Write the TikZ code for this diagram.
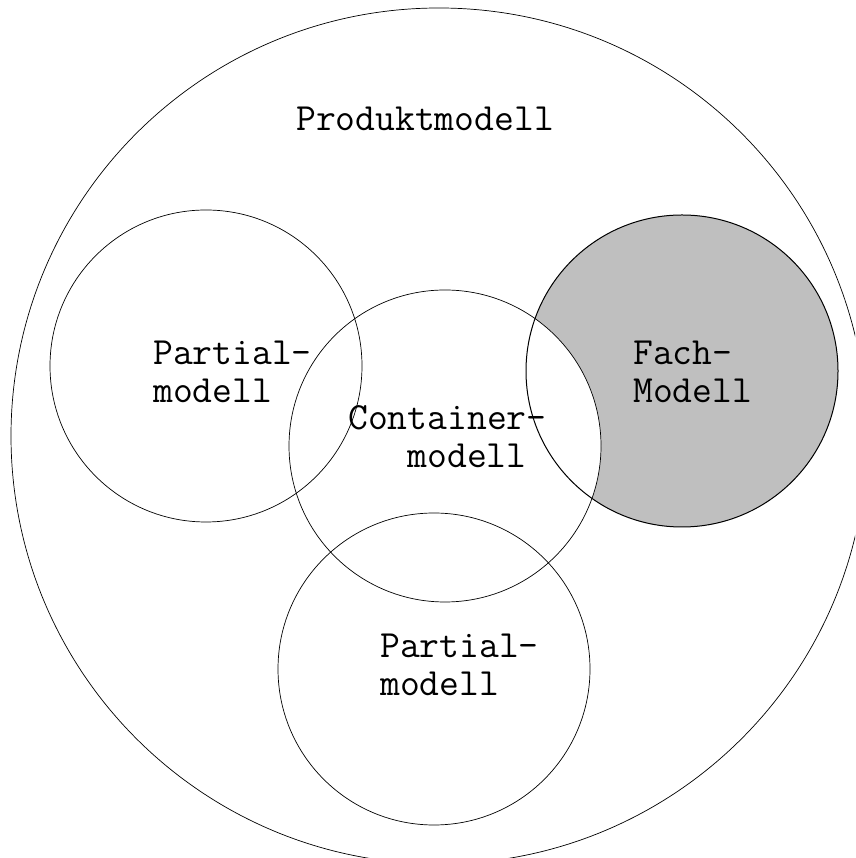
\documentclass[tikz,border=0pt]{standalone}
\usepackage{fontspec}
\definecolor{fachgrau}{gray}{0.75}

\begin{document}
\begin{tikzpicture}[x=1pt, y=1pt,
  modell/.style={draw, line width=0.7pt},
  beschriftung/.style={anchor=base west, inner sep=0pt, align=left,
    font=\ttfamily\fontsize{38.5}{38}\selectfont}]
\useasboundingbox (0,0) rectangle (855,858);
\clip (0,0) rectangle (855,858);

% aeusserer Kreis
\draw[modell] (439,422) circle (428);

% Fachmodell grau, Containermodell weiss darueber
\fill[fachgrau] (682,487) circle (156);
\fill[white] (445,412) circle (156);

\draw[modell] (206,492) circle (156);
\draw[modell] (445,412) circle (156);
\draw[modell, line width=1pt] (682,487) circle (156);
\draw[modell] (434,189) circle (156);

% base = Grundlinie der letzten Zeile
\node[beschriftung] (prod) at (296,727) {Produktmodell};
\node[beschriftung] (partA) at (153,455) {Partial-\\modell};
\node[beschriftung] (fach) at (633,455) {Fach-\\Modell};
\node[beschriftung] (cont) at (348,390) {Container-\\\phantom{Con}modell};
\node[beschriftung] (partB) at (380,162) {Partial-\\modell};
\end{tikzpicture}
\end{document}
